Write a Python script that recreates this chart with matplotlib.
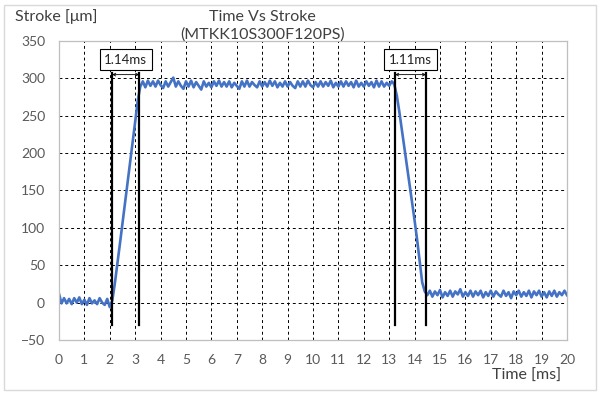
import numpy as np
import matplotlib.pyplot as plt
from matplotlib.patches import FancyBboxPatch

plt.rcParams['font.family'] = ['Lato', 'DejaVu Sans']

# sampled stroke signal, 0.1 ms steps from 0 to 20 ms
time_ms = np.round(np.arange(0, 20.01, 0.1), 2)

base = [12, -1, 6, -1, 5, -2, 6, 0, 7, -2, 4, -3, 6, -1, 3, -2, 6, 0, -3, 5, -6]
rise = [3, 26, 52, 79, 106, 133, 160, 187, 214, 242, 270]
plateau = [
    289, 296, 288, 297, 290, 296, 289, 297, 291, 287,
    296, 289, 295, 301, 289, 296, 290, 286, 296, 289,
    297, 288, 295, 290, 285, 296, 289, 294, 288, 296,
    290, 297, 289, 295, 289, 296, 288, 294, 290, 286,
    296, 289, 297, 289, 295, 291, 288, 296, 289, 295,
    289, 297, 290, 296, 288, 294, 289, 296, 289, 295,
    290, 287, 296, 289, 296, 289, 297, 291, 288, 295,
    289, 296, 289, 295, 290, 297, 288, 294, 289, 296,
    289, 296, 290, 295, 288, 297, 289, 294, 289, 296,
    290, 295, 288, 297, 289, 296, 289, 294, 290, 296,
    292,
]
fall = [277, 255, 231, 207, 183, 159, 135, 110, 84, 56, 27, 15]
tail = [
    10, 16, 8, 15, 10, 17, 7, 14, 9, 16,
    8, 15, 11, 18, 8, 14, 9, 16, 8, 15,
    10, 16, 7, 14, 9, 16, 8, 15, 11, 8,
    16, 9, 14, 6, 15, 10, 16, 8, 14, 9,
    16, 7, 15, 10, 16, 8, 14, 7, 15, 9,
    16, 8, 14, 10, 16, 10,
]
stroke = np.array(base + rise + plateau + fall + tail)

# response-time markers
rise_marks = [2.09, 3.16]
fall_marks = [13.23, 14.45]
labels = ['1.14ms', '1.11ms']

fig = plt.figure(figsize=(6, 3.94), dpi=100)
ax = fig.add_axes([0.0983, 0.137, 0.8467, 0.759])

ax.plot(time_ms, stroke, color='#4472c4', linewidth=1.9, zorder=2)

for marks, lab in zip([rise_marks, fall_marks], labels):
    for xm in marks:
        ax.plot([xm, xm], [-30, 307], color='black', linewidth=1.6, zorder=3)
    ax.annotate('', xy=(marks[0], 305), xytext=(marks[1], 305),
                arrowprops=dict(arrowstyle='<->', color='black', lw=0.6,
                                shrinkA=0, shrinkB=0, mutation_scale=5))
    ax.text((marks[0] + marks[1]) / 2, 325, lab, ha='center', va='center',
            fontsize=9.5, color='#222222', zorder=4,
            bbox=dict(boxstyle='square,pad=0.35', fc='white', ec='black', lw=0.8))

ax.set_xlim(0, 20)
ax.set_ylim(-50, 350)
ax.set_xticks(range(0, 21))
ax.set_yticks(range(-50, 351, 50))
ax.grid(True, color='black', linestyle=(0, (3, 3)), linewidth=0.7)
ax.set_axisbelow(True)
ax.tick_params(length=0, labelsize=10, labelcolor='#595959')
ax.tick_params(axis='x', pad=10)
ax.tick_params(axis='y', pad=10)
for s in ax.spines.values():
    s.set_color('#bfbfbf')
    s.set_linewidth(0.9)

fig.text(0.437, 0.957, 'Time Vs Stroke', ha='center', va='center',
         fontsize=11.5, color='#404040')
fig.text(0.437, 0.912, '(MTKK10S300F120PS)', ha='center', va='center',
         fontsize=11.5, color='#404040')
fig.text(0.025, 0.957, 'Stroke [\u03bcm]', ha='left', va='center',
         fontsize=11.5, color='#404040')
fig.text(0.935, 0.046, 'Time [ms]', ha='right', va='center',
         fontsize=11.5, color='#404040')

fig.patches.append(FancyBboxPatch((0.006, 0.01), 0.988, 0.978,
                                  boxstyle='square,pad=0', transform=fig.transFigure,
                                  fill=False, ec='#d9d9d9', lw=1))

plt.savefig('out.png', dpi=100)
plt.close()
